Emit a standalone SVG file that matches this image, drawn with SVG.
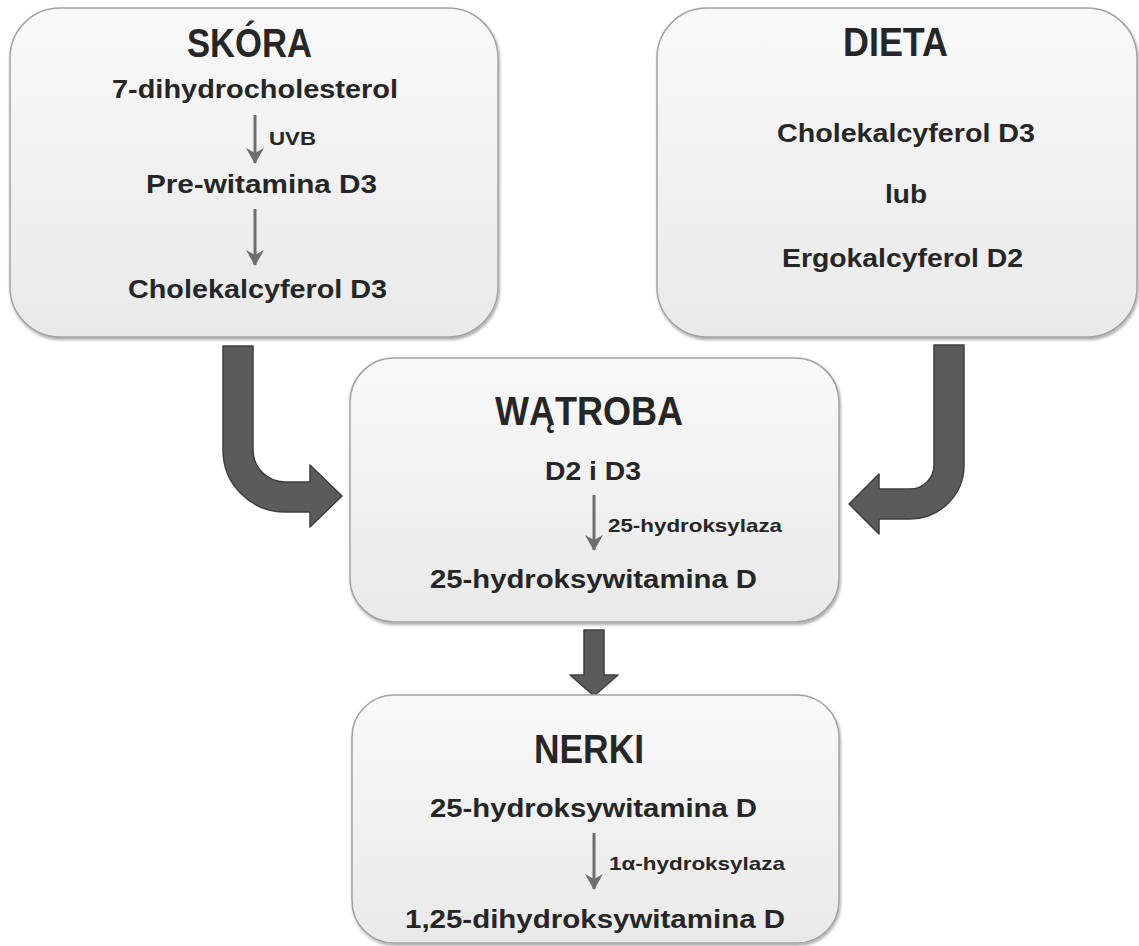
<svg xmlns="http://www.w3.org/2000/svg" width="1139" height="946" viewBox="0 0 1139 946">
<defs>
<linearGradient id="boxg" x1="0" y1="0" x2="0" y2="1">
<stop offset="0" stop-color="#f9f9f9"/>
<stop offset="1" stop-color="#e9e9e9"/>
</linearGradient>
<filter id="sh" x="-5%" y="-5%" width="110%" height="115%">
<feDropShadow dx="1" dy="2" stdDeviation="1.8" flood-color="#000" flood-opacity="0.35"/>
</filter>
<marker id="ah" viewBox="0 0 17 18" refX="16" refY="9" markerWidth="17" markerHeight="18" markerUnits="userSpaceOnUse" orient="auto">
<path d="M1,0 L17,9 L1,18 L6,9 Z" fill="#6e6e6e"/>
</marker>
</defs>
<style>
.box{fill:url(#boxg);stroke:#a3a3a3;stroke-width:1.5;filter:url(#sh)}
.t{font-family:"Liberation Sans",Arial,sans-serif;font-weight:bold;fill:#262626}
.title{font-size:40px}
.body{font-size:25px}
.small{font-size:19px}
.big{fill:#5b5b5b;stroke:#3f3f3f;stroke-width:1.5;stroke-linejoin:round}
.thin{stroke:#6e6e6e;stroke-width:3;fill:none}
</style>
<rect width="1139" height="946" fill="#ffffff"/>

<g id="connectors">
<path class="big" d="M223,346 L253,346 L253,450 A32,32 0 0 0 285,482 L310,482 L310,465 L342,496 L310,527 L310,512 L285,512 A62,62 0 0 1 223,450 Z"/>
<path class="big" d="M934,345 L964,345 L964,465 A54,54 0 0 1 910,519 L879,519 L879,534 L849,504 L879,474 L879,489 L910,489 A24,24 0 0 0 934,465 Z"/>
<path class="big" d="M584,630 L604,630 L604,675 L618,675 L594,696 L570,675 L584,675 Z"/>
</g>

<g id="skora">
<rect class="box" x="10" y="8" width="488" height="329" rx="50" ry="50"/>
<text class="t title" x="249.5" y="57" text-anchor="middle" textLength="125" lengthAdjust="spacingAndGlyphs">SKÓRA</text>
<text class="t body" x="255" y="98" text-anchor="middle" textLength="286" lengthAdjust="spacingAndGlyphs">7-dihydrocholesterol</text>
<line class="thin" x1="255" y1="115" x2="255" y2="163" marker-end="url(#ah)"/>
<text class="t small" x="269" y="145" textLength="47" lengthAdjust="spacingAndGlyphs">UVB</text>
<text class="t body" x="261.5" y="193" text-anchor="middle" textLength="231" lengthAdjust="spacingAndGlyphs">Pre-witamina D3</text>
<line class="thin" x1="255" y1="209" x2="255" y2="265" marker-end="url(#ah)"/>
<text class="t body" x="257.5" y="298" text-anchor="middle" textLength="259" lengthAdjust="spacingAndGlyphs">Cholekalcyferol D3</text>
</g>

<g id="dieta">
<rect class="box" x="657" y="8" width="480" height="329" rx="50" ry="50"/>
<text class="t title" x="895.5" y="56" text-anchor="middle" textLength="105" lengthAdjust="spacingAndGlyphs">DIETA</text>
<text class="t body" x="906" y="142" text-anchor="middle" textLength="258" lengthAdjust="spacingAndGlyphs">Cholekalcyferol D3</text>
<text class="t body" x="906" y="203" text-anchor="middle" textLength="42" lengthAdjust="spacingAndGlyphs">lub</text>
<text class="t body" x="902.5" y="267" text-anchor="middle" textLength="241" lengthAdjust="spacingAndGlyphs">Ergokalcyferol D2</text>
</g>

<g id="watroba">
<rect class="box" x="350" y="358" width="489" height="264" rx="44" ry="44"/>
<text class="t title" x="589" y="425" text-anchor="middle" textLength="188" lengthAdjust="spacingAndGlyphs">WĄTROBA</text>
<text class="t body" x="593" y="480" text-anchor="middle" textLength="96" lengthAdjust="spacingAndGlyphs">D2 i D3</text>
<line class="thin" x1="594" y1="495" x2="594" y2="550" marker-end="url(#ah)"/>
<text class="t small" x="608" y="532" textLength="174" lengthAdjust="spacingAndGlyphs">25-hydroksylaza</text>
<text class="t body" x="593.5" y="588" text-anchor="middle" textLength="327" lengthAdjust="spacingAndGlyphs">25-hydroksywitamina D</text>
</g>

<g id="nerki">
<rect class="box" x="352" y="695" width="487" height="248" rx="42" ry="42"/>
<text class="t title" x="589" y="763" text-anchor="middle" textLength="110" lengthAdjust="spacingAndGlyphs">NERKI</text>
<text class="t body" x="593.5" y="817" text-anchor="middle" textLength="327" lengthAdjust="spacingAndGlyphs">25-hydroksywitamina D</text>
<line class="thin" x1="594" y1="833" x2="594" y2="889" marker-end="url(#ah)"/>
<text class="t small" x="609" y="870" textLength="176" lengthAdjust="spacingAndGlyphs">1α-hydroksylaza</text>
<text class="t body" x="595" y="928" text-anchor="middle" textLength="380" lengthAdjust="spacingAndGlyphs">1,25-dihydroksywitamina D</text>
</g>
</svg>
